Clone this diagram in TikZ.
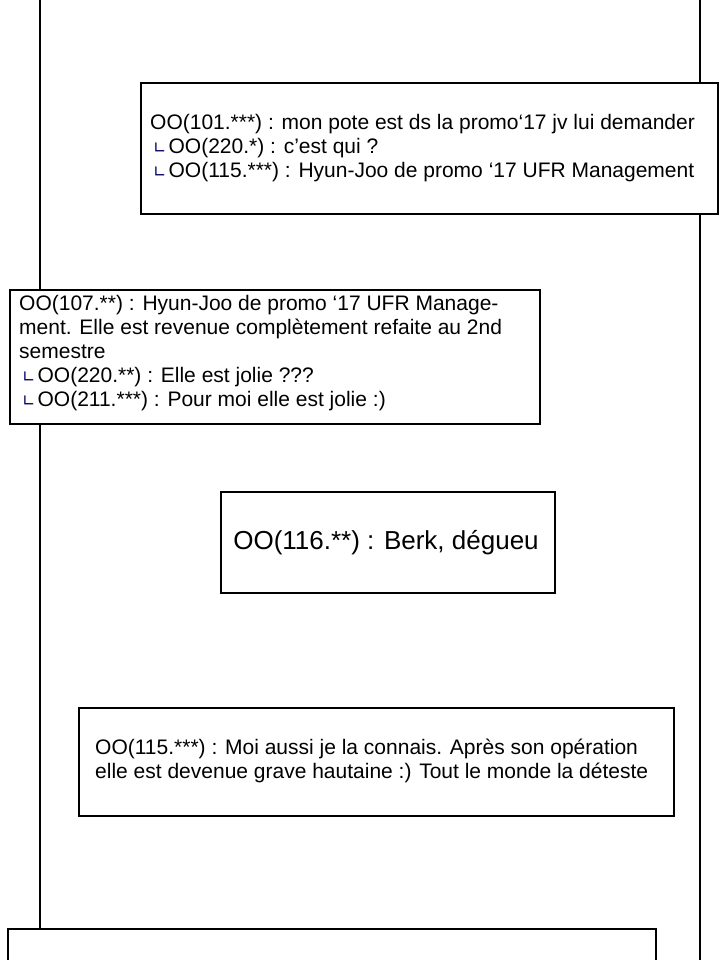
\documentclass[tikz,border=0pt]{standalone}
\usepackage{fontspec}
\setmainfont{Liberation Sans}
\newfontfamily\symfont{DejaVu Sans}
\usetikzlibrary{positioning}
\tikzset{post/.style={draw=black, line width=2pt, fill=white},
  say/.style={anchor=north west, align=left, inner sep=0pt, font=\fontsize{21}{24}\selectfont},
  rail/.style={line width=2.5pt}}
\newcommand{\rep}{\hspace{3pt}{\symfont\color{black!60!blue}\fontsize{16}{24}\selectfont ∟}\hspace{2pt}}
\begin{document}
\begin{tikzpicture}[x=1pt,y=-1pt]
    \useasboundingbox (0,0) rectangle (720,960);
    % the two rails behind the posts
    \coordinate (LT) at (40,0); \coordinate (LB) at (40,932);
    \coordinate (RT) at (700,0); \coordinate (RB) at (700,960);
    \draw [rail] (LT) -- (LB); \draw [rail] (RT) -- (RB);

    \draw [post] (141,83) rectangle (718,214);
    \node (A) [say] at (150,114) {OO(101.***) : mon pote est ds la promo‘17 jv lui demander\\
      \rep OO(220.*) : c’est qui ?\\ \rep OO(115.***) : Hyun-Joo de promo ‘17 UFR Management};

    \draw [post] (10,290) rectangle (540,424);
    \node (B) [say] at (19,295) {OO(107.**) : Hyun-Joo de promo ‘17 UFR Manage-\\
      ment. Elle est revenue complètement refaite au 2nd\\ semestre\\
      \rep OO(220.**) : Elle est jolie ???\\ \rep OO(211.***) : Pour moi elle est jolie :)};

    \draw [post] (221,492) rectangle (555,593);
    \node (C) [font=\fontsize{26}{30}\selectfont] at (386,543) {OO(116.**) : Berk, dégueu};

    \draw [post] (79,708) rectangle (674,816);
    \node (D) [say] at (95,739) {OO(115.***) : Moi aussi je la connais. Après son opération\\
      elle est devenue grave hautaine :) Tout le monde la déteste};

    \draw [post] (8,929) rectangle (656,975);
  \end{tikzpicture}
\end{document}
